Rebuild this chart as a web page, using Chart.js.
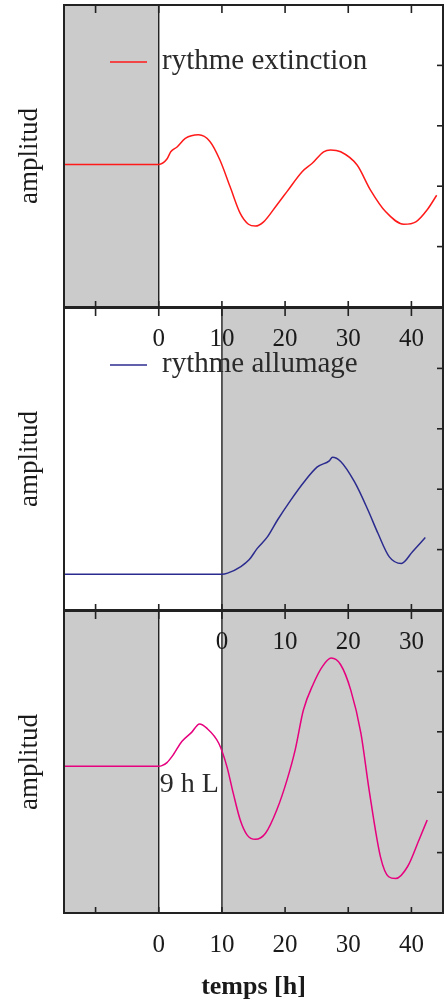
<!DOCTYPE html>
<html lang="fr">
<head>
  <meta charset="UTF-8" />
  <title>rythmes</title>
  <script src="https://cdn.jsdelivr.net/npm/chart.js"></script>
  <style>
    html, body { margin: 0; padding: 0; background: #fff; }
    #wrap { position: relative; width: 446px; height: 1005px; }
    canvas { position: absolute; left: 0; }
  </style>
</head>
<body>
  <div id="wrap">
    <canvas id="c1" width="446" height="380" style="top:0;z-index:3"></canvas>
    <canvas id="c2" width="446" height="380" style="top:303px;z-index:2"></canvas>
    <canvas id="c3" width="446" height="399" style="top:606px;z-index:1"></canvas>
  </div>

  <script>
    const SERIF = '"Liberation Serif", "DejaVu Serif", serif';

    // panneau 1 : rythme extinction (temps en h)
    const extinctionTime = [-15, 0, 1.3, 1.9, 2.9, 4.2, 6.3, 8.1, 9.7, 11.3, 12.9, 14.2, 15.3, 16.6, 18.7, 20.3, 22.7, 24.3, 26.1, 27.2, 28.8, 31.4, 33.5, 35.9, 38.8, 40.7, 42.5, 44.0];
    const extinctionAmp = [2.36, 2.36, 2.45, 2.57, 2.65, 2.79, 2.85, 2.74, 2.43, 1.99, 1.55, 1.37, 1.34, 1.41, 1.69, 1.91, 2.24, 2.38, 2.57, 2.60, 2.57, 2.35, 1.94, 1.58, 1.37, 1.41, 1.61, 1.85];
    const extinctionDark = [[-15, 0]];
    const extinctionTicks = [-10, 0, 10, 20, 30, 40];
    const extinctionLabels = ['', '0', '10', '20', '30', '40'];

    // panneau 2 : rythme allumage (0 = allumage)
    const allumageTime = [-25, 0, 0.9, 3.0, 4.3, 5.6, 7.2, 8.8, 10.9, 13.0, 15.1, 17.0, 17.5, 18.8, 21.0, 23.1, 24.7, 26.5, 28.4, 30.2, 32.2];
    const allumageAmp = [0.59, 0.59, 0.61, 0.72, 0.83, 1.02, 1.21, 1.49, 1.82, 2.12, 2.37, 2.47, 2.53, 2.46, 2.12, 1.66, 1.27, 0.88, 0.77, 0.97, 1.20];
    const allumageDark = [[0, 35]];
    const allumageTicks = [-20, -10, 0, 10, 20, 30];
    const allumageLabels = ['', '', '0', '10', '20', '30'];

    // panneau 3 : 9 h de lumiere
    const pulseTime = [-15, 0, 0.5, 1.3, 2.3, 3.65, 5.2, 6.45, 7.6, 9.5, 10.8, 11.8, 12.9, 14.0, 15.3, 16.9, 18.7, 20.3, 21.6, 22.9, 24.5, 25.9, 27.3, 28.8, 30.4, 32.0, 33.3, 35.1, 36.4, 37.5, 39.4, 41.2, 42.5];
    const pulseAmp = [2.43, 2.43, 2.44, 2.49, 2.62, 2.84, 2.99, 3.13, 3.06, 2.81, 2.42, 1.98, 1.54, 1.29, 1.22, 1.32, 1.71, 2.20, 2.70, 3.36, 3.80, 4.08, 4.22, 4.11, 3.69, 2.98, 2.04, 0.93, 0.60, 0.57, 0.77, 1.21, 1.54];
    const pulseDark = [[-15, 0], [10, 45]];
    const pulseTicks = [-10, 0, 10, 20, 30, 40];
    const pulseLabels = ['', '0', '10', '20', '30', '40'];

    const ampTicks = [1, 2, 3, 4];

    // fond gris, cadre, graduations vers l'interieur, legende
    const panelDecor = {
      id: 'panelDecor',
      beforeDatasetsDraw(chart, args, opts) {
        const { ctx, chartArea: a, scales: { x } } = chart;
        ctx.save();
        ctx.fillStyle = '#cbcbcb';
        opts.dark.forEach(([s, e]) => {
          const x0 = Math.max(a.left, x.getPixelForValue(s));
          const x1 = Math.min(a.right, x.getPixelForValue(e));
          ctx.fillRect(x0, a.top, x1 - x0, a.bottom - a.top);
        });
        ctx.strokeStyle = '#111';
        ctx.lineWidth = 1.3;
        opts.dark.flat().forEach(v => {
          if (v <= x.min || v >= x.max) return;
          const px = x.getPixelForValue(v);
          ctx.beginPath();
          ctx.moveTo(px, a.top);
          ctx.lineTo(px, a.bottom);
          ctx.stroke();
        });
        ctx.restore();
      },
      afterDatasetsDraw(chart, args, opts) {
        const { ctx, chartArea: a, scales: { x, y } } = chart;
        ctx.save();
        ctx.strokeStyle = '#222';
        ctx.lineWidth = 1.6;
        x.ticks.forEach(t => {
          const px = x.getPixelForValue(t.value);
          ctx.beginPath();
          ctx.moveTo(px, a.top); ctx.lineTo(px, a.top + 8);
          ctx.moveTo(px, a.bottom); ctx.lineTo(px, a.bottom - 6);
          ctx.stroke();
        });
        y.ticks.forEach(t => {
          const py = y.getPixelForValue(t.value);
          ctx.beginPath();
          ctx.moveTo(a.right, py); ctx.lineTo(a.right - 6, py);
          ctx.stroke();
        });
        ctx.lineWidth = 2;
        ctx.strokeRect(a.left, a.top, a.right - a.left, a.bottom - a.top);

        const ds = chart.data.datasets[0];
        if (opts.legend) {
          ctx.strokeStyle = ds.borderColor;
          ctx.lineWidth = 1.5;
          ctx.beginPath();
          ctx.moveTo(a.left + 46, a.top + 57);
          ctx.lineTo(a.left + 83, a.top + 57);
          ctx.stroke();
          ctx.fillStyle = '#2a2a2a';
          ctx.font = '29px ' + SERIF;
          ctx.textBaseline = 'alphabetic';
          ctx.fillText(ds.label, a.left + 98, a.top + 64);
        }
        if (opts.note) {
          ctx.fillStyle = '#2a2a2a';
          ctx.font = '28px ' + SERIF;
          ctx.textBaseline = 'alphabetic';
          ctx.fillText(opts.note.text, x.getPixelForValue(opts.note.x) + 1, y.getPixelForValue(opts.note.y));
        }
        ctx.restore();
      }
    };

    function makePanel(id, p) {
      return new Chart(document.getElementById(id), {
        type: 'line',
        data: {
          datasets: [{
            label: p.label,
            data: p.time.map((t, i) => ({ x: t, y: p.amp[i] })),
            borderColor: p.color,
            borderWidth: 1.5,
            pointRadius: 0,
            fill: false,
            tension: 0.4,
            cubicInterpolationMode: 'monotone'
          }]
        },
        options: {
          responsive: false,
          animation: false,
          events: [],
          layout: { padding: { top: 5, right: 3, left: 0, bottom: 0 } },
          plugins: {
            legend: { display: false },
            tooltip: { enabled: false },
            panelDecor: { dark: p.dark, legend: p.legend, note: p.note }
          },
          scales: {
            x: {
              type: 'linear',
              min: p.xMin,
              max: p.xMax,
              afterBuildTicks: s => { s.ticks = p.ticks.map(v => ({ value: v })); },
              afterFit: s => { s.height = p.axisHeight; },
              grid: { display: false, drawTicks: false },
              border: { display: false },
              ticks: {
                autoSkip: false,
                maxRotation: 0,
                padding: 17,
                color: '#1a1a1a',
                font: { family: SERIF, size: 25 },
                callback: (v, i) => p.labels[i]
              },
              title: {
                display: !!p.xTitle,
                text: p.xTitle || '',
                color: '#1a1a1a',
                font: { family: SERIF, size: 26, weight: 'bold' },
                padding: { top: 0, bottom: 2 }
              }
            },
            y: {
              min: 0,
              max: 5,
              afterBuildTicks: s => { s.ticks = ampTicks.map(v => ({ value: v })); },
              afterFit: s => { s.width = 64; },
              grid: { display: false },
              border: { display: false },
              ticks: { display: false },
              title: {
                display: true,
                text: 'amplitud',
                color: '#1a1a1a',
                font: { family: SERIF, size: 27 },
                padding: { top: 14, bottom: 0 }
              }
            }
          }
        },
        plugins: [panelDecor]
      });
    }

    makePanel('c1', {
      label: 'rythme extinction', color: '#ff1a1a',
      time: extinctionTime, amp: extinctionAmp, dark: extinctionDark,
      ticks: extinctionTicks, labels: extinctionLabels,
      xMin: -15, xMax: 45, axisHeight: 73, legend: true
    });
    makePanel('c2', {
      label: 'rythme allumage', color: '#2b2b8f',
      time: allumageTime, amp: allumageAmp, dark: allumageDark,
      ticks: allumageTicks, labels: allumageLabels,
      xMin: -25, xMax: 35, axisHeight: 73, legend: true
    });
    makePanel('c3', {
      label: '9 h L', color: '#e6007e',
      time: pulseTime, amp: pulseAmp, dark: pulseDark,
      ticks: pulseTicks, labels: pulseLabels,
      xMin: -15, xMax: 45, axisHeight: 92, xTitle: 'temps [h]',
      note: { text: '9 h L', x: 0, y: 2.0 }
    });
  </script>
</body>
</html>
